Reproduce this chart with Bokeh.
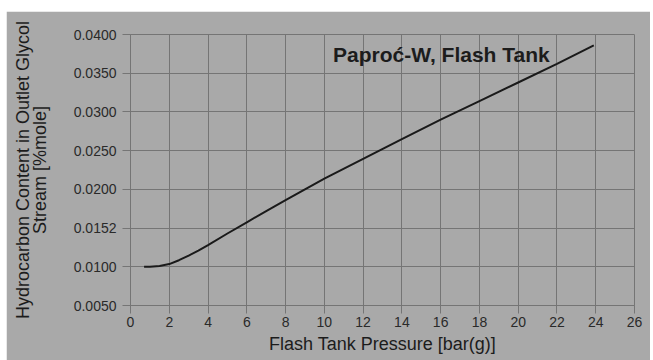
from bokeh.plotting import figure
from bokeh.models import Label, FixedTicker, Range1d, Spacer
from bokeh.layouts import column, row
from bokeh.embed import file_html
from bokeh.resources import INLINE

# Data
pressure = [0.7, 1.0, 1.5, 2.0, 2.5, 3.0, 3.5, 4.0, 5.0, 6.0, 7.0, 8.0, 9.0,
            10.0, 12.0, 14.0, 16.0, 18.0, 20.0, 22.0, 23.9]
hc_content = [0.01000, 0.01000, 0.01010, 0.01035, 0.01085, 0.01145, 0.01210,
              0.01280, 0.01430, 0.01575, 0.01720, 0.01860, 0.02000, 0.02140,
              0.02395, 0.02650, 0.02900, 0.03140, 0.03380, 0.03620, 0.03860]

x_ticks = [0, 2, 4, 6, 8, 10, 12, 14, 16, 18, 20, 22, 24, 26]
y_ticks = [0.005, 0.010, 0.015, 0.020, 0.025, 0.030, 0.035, 0.040]
y_tick_labels = ["0.0050", "0.0100", "0.0152", "0.0200", "0.0250", "0.0300",
                 "0.0350", "0.0400"]

title_text = "Paproć-W, Flash Tank"
x_title = "Flash Tank Pressure [bar(g)]"
y_title = "Hydrocarbon Content in Outlet Glycol\nStream [%mole]"

BG = "#a9a9a9"
GRID = "#757575"
TXT = "#1c1c1c"
FONT = "Liberation Sans"

p = figure(width=644, height=349, output_backend="svg", toolbar_location=None,
           x_range=Range1d(0, 26), y_range=Range1d(0.005, 0.040))
p.min_border_left = 124
p.min_border_right = 16
p.min_border_top = 23
p.min_border_bottom = 55
p.background_fill_color = BG
p.border_fill_color = BG
p.outline_line_color = GRID
p.outline_line_width = 1

p.xaxis.ticker = FixedTicker(ticks=x_ticks)
p.yaxis.ticker = FixedTicker(ticks=y_ticks)
p.yaxis.major_label_overrides = {t: l for t, l in zip(y_ticks, y_tick_labels)}
p.xaxis.major_label_overrides = {t: str(t) for t in x_ticks}

for ax in (p.xaxis, p.yaxis):
    ax.axis_line_color = GRID
    ax.major_tick_line_color = GRID
    ax.major_tick_out = 8
    ax.major_tick_in = 0
    ax.minor_tick_line_color = None
    ax.major_label_text_font = FONT
    ax.major_label_text_font_size = "14px"
    ax.major_label_text_color = "#2a2a2a"
    ax.axis_label_text_font = FONT
    ax.axis_label_text_font_size = "18px"
    ax.axis_label_text_font_style = "normal"
    ax.axis_label_text_color = TXT
    ax.axis_label_text_line_height = 0.85

p.xaxis.axis_label = x_title
p.yaxis.axis_label = y_title
p.xaxis.major_label_standoff = 3
p.xaxis.axis_label_standoff = 4
p.yaxis.major_label_standoff = 6
p.yaxis.axis_label_standoff = 21

p.grid.grid_line_color = GRID
p.grid.grid_line_width = 1

p.line(pressure, hc_content, line_color="#1a1a1a", line_width=2)

p.add_layout(Label(x=10.45, y=0.0374, text=title_text, text_font=FONT,
                   text_font_size="21px", text_font_style="bold",
                   text_color=TXT, text_baseline="middle", text_align="left"))

layout = column(Spacer(height=11, width=650),
                row(Spacer(width=6, height=349), p))

open("out.html", "w").write(file_html(layout, INLINE))
